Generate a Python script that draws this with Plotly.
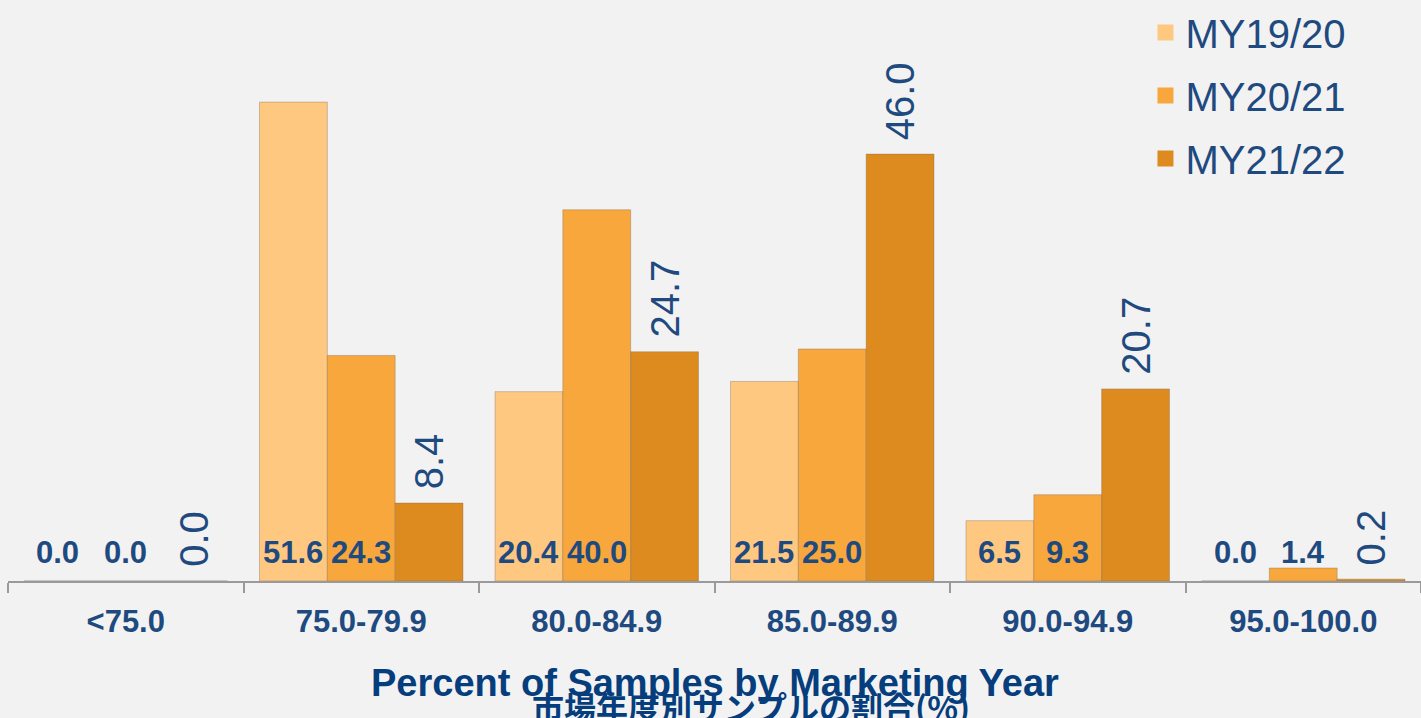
"""Grouped bar chart: percent of samples by marketing year."""

import plotly.graph_objects as go

categories = ["<75.0", "75.0-79.9", "80.0-84.9", "85.0-89.9", "90.0-94.9", "95.0-100.0"]
series_names = ["MY19/20", "MY20/21", "MY21/22"]
my1920 = [0.0, 51.6, 20.4, 21.5, 6.5, 0.0]
my2021 = [0.0, 24.3, 40.0, 25.0, 9.3, 1.4]
my2122 = [0.0, 8.4, 24.7, 46.0, 20.7, 0.2]

colors = ["#FFC880", "#F7A73B", "#DD8B1E"]
label_color = "#1F4A80"
title_color = "#063E7D"
bg_color = "#F2F2F2"
font_family = "Liberation Sans, Arial, sans-serif"

fig = go.Figure()

for name, values, color in zip(series_names, [my1920, my2021, my2122], colors):
    fig.add_trace(
        go.Bar(
            x=categories,
            y=values,
            name=name,
            marker=dict(color=color, line=dict(width=1, color="rgba(120,100,80,0.35)")),
            showlegend=False,
        )
    )
    # legend entry with a bigger square symbol
    fig.add_trace(
        go.Scatter(
            x=[None],
            y=[None],
            mode="markers",
            marker=dict(symbol="square", size=16, color=color),
            name=name,
            legendgroup=name,
        )
    )

annotations = []
# bold labels at the base of the first two series
for values, shift in [(my1920, -68), (my2021, 0)]:
    for cat, v in zip(categories, values):
        annotations.append(
            dict(
                x=cat,
                y=0,
                xref="x",
                yref="y",
                text=f"<b>{v:.1f}</b>",
                showarrow=False,
                xshift=shift,
                yshift=29,
                yanchor="middle",
                font=dict(family=font_family, size=31, color=label_color),
            )
        )

# rotated labels above the last series
for cat, v in zip(categories, my2122):
    annotations.append(
        dict(
            x=cat,
            y=v,
            xref="x",
            yref="y",
            text=f"{v:.1f}",
            showarrow=False,
            textangle=-90,
            xshift=68,
            yshift=12,
            yanchor="bottom",
            font=dict(family=font_family, size=40, color=label_color),
        )
    )

annotations.append(
    dict(
        text="<b>Percent of Samples by Marketing Year</b>",
        xref="paper",
        yref="paper",
        x=0.5,
        y=-0.175,
        yanchor="middle",
        showarrow=False,
        font=dict(family=font_family, size=38, color=title_color),
    )
)
annotations.append(
    dict(
        text="<b>市場年度別サンプルの割合(%)</b>",
        xref="paper",
        yref="paper",
        x=0.526,
        y=-0.215,
        yanchor="middle",
        showarrow=False,
        font=dict(family="Noto Sans CJK JP", size=32, color=title_color),
    )
)

fig.update_layout(
    width=1421,
    height=718,
    barmode="group",
    bargap=0.136,
    bargroupgap=0,
    paper_bgcolor=bg_color,
    plot_bgcolor=bg_color,
    margin=dict(l=8, r=0, t=0, b=137),
    font=dict(family=font_family, color=label_color),
    xaxis=dict(
        showgrid=False,
        zeroline=False,
        showline=True,
        linecolor="#9A9A9A",
        linewidth=2,
        ticks="outside",
        tickson="boundaries",
        ticklen=10,
        tickwidth=2,
        tickcolor="#9A9A9A",
        ticklabelstandoff=12,
        tickfont=dict(family=font_family, size=31, color=label_color, weight="bold"),
    ),
    yaxis=dict(
        range=[0, 62.6],
        showgrid=False,
        zeroline=False,
        showticklabels=False,
        visible=False,
    ),
    legend=dict(
        x=0.805,
        y=1.0,
        xanchor="left",
        yanchor="top",
        bgcolor="rgba(0,0,0,0)",
        font=dict(family=font_family, size=40, color=label_color),
        tracegroupgap=8,
    ),
    annotations=annotations,
)

# drop the page margin so the chart fills the window like the original
fig.write_html(
    "out.html",
    config={"displayModeBar": False},
    post_script=(
        "document.body.style.margin='0';"
        f"document.body.style.background='{bg_color}';"
        "document.body.style.overflow='hidden';"
    ),
)
